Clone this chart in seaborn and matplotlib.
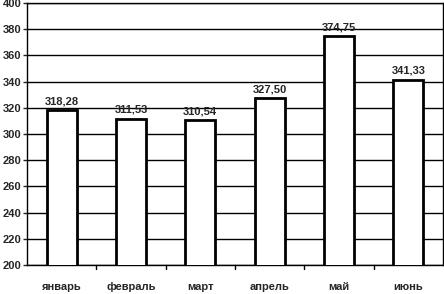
import matplotlib
matplotlib.use('Agg')
import matplotlib.pyplot as plt
import seaborn as sns
import pandas as pd

months = ['январь', 'февраль', 'март', 'апрель', 'май', 'июнь']
values = [318.28, 311.53, 310.54, 327.50, 374.75, 341.33]
y_ticks = list(range(200, 401, 20))

df = pd.DataFrame({'month': months, 'value': values})

sns.set_style('white')
plt.rcParams['font.family'] = ['Liberation Sans', 'DejaVu Sans']

fig = plt.figure(figsize=(4.44, 2.94), dpi=100)
ax = fig.add_axes([27 / 444, 29 / 294, 416 / 444, 262 / 294])

sns.barplot(data=df, x='month', y='value', ax=ax, color='white',
            edgecolor='black', linewidth=2, width=0.43, zorder=3)

ax.set_ylim(200, 400)
ax.set_xlim(-0.5, len(months) - 0.5)
ax.set_yticks(y_ticks)
ax.set_yticklabels([str(t) for t in y_ticks], fontsize=8, fontweight='bold')
ax.set_xticks(range(len(months)))
ax.set_xticklabels(months, fontsize=8, fontweight='bold')
ax.tick_params(axis='x', length=0, pad=12)
ax.tick_params(axis='y', length=3, width=1, direction='out', pad=1, left=True)

# category separator ticks on the x axis
for b in range(1, len(months)):
    ax.plot([b - 0.5, b - 0.5], [200, 197], color='black', lw=1, clip_on=False)

ax.yaxis.grid(True, color='black', lw=1)
ax.set_axisbelow(True)
for s in ax.spines.values():
    s.set_color('black')
    s.set_linewidth(1)
ax.set_xlabel('')
ax.set_ylabel('')

for i, v in enumerate(values):
    ax.text(i, v + 3, f'{v:.2f}'.replace('.', ','), ha='center', va='bottom',
            fontsize=8, fontweight='bold', zorder=4)

fig.savefig('out.png', dpi=100)
